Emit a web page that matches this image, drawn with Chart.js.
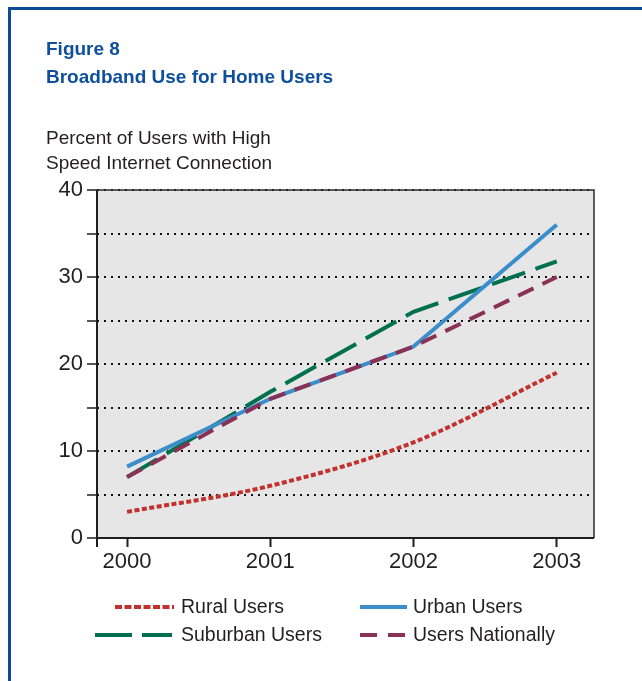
<!DOCTYPE html>
<html>
<head>
<meta charset="utf-8">
<title>Broadband Use for Home Users</title>
<script src="https://cdn.jsdelivr.net/npm/chart.js@4/dist/chart.umd.min.js"></script>
<style>
  html, body { margin: 0; padding: 0; background: #fff; overflow: hidden; }
  #wrap { position: relative; width: 642px; height: 681px; }
  /* blue frame round the figure (top and left edge only) */
  #frame {
    position: absolute; left: 8px; top: 7px; right: -10px; bottom: -10px;
    border-top: 3px solid #0c4c97; border-left: 3px solid #0c4c97;
  }
  #grafico { position: absolute; left: 0; top: 0; }
</style>
</head>
<body>
<div id="wrap">
  <div id="frame"></div>
  <canvas id="grafico" width="642" height="681"></canvas>
</div>
<script>
// anos e series (percentual de usuarios com conexao de alta velocidade)
const anos = [2000, 2001, 2002, 2003]
const rural = [3, 6, 11, 19]
const urbano = [8.2, 16, 22, 36]
const suburbano = [7, 16.8, 26, 31.8]
const nacional = [7, 16, 22, 30]
const rotulosY = [0, 10, 20, 30, 40]

const corTexto = '#231f20'
const fonte = 'Arial, "Liberation Sans", Helvetica, sans-serif'

function pontos(valores) {
    return valores.map((v, i) => ({ x: anos[i], y: v }))
}

/* fundo cinza e moldura da area do grafico */
const molduraPlugin = {
    id: 'moldura',
    beforeDraw(chart) {
        const { ctx, chartArea: a } = chart
        ctx.save()
        ctx.fillStyle = '#e6e6e6'
        ctx.fillRect(a.left, a.top, a.right - a.left, a.bottom - a.top)
        ctx.restore()
    },
    afterDatasetsDraw(chart) {
        const { ctx, chartArea: a } = chart
        ctx.save()
        ctx.strokeStyle = '#2b2b2b'
        ctx.lineWidth = 1.5
        ctx.beginPath()
        ctx.moveTo(a.left, a.top)
        ctx.lineTo(a.right, a.top)
        ctx.lineTo(a.right, a.bottom)
        ctx.stroke()
        ctx.lineWidth = 2
        ctx.strokeStyle = '#1e1e1e'
        ctx.beginPath()
        ctx.moveTo(a.left, a.top)
        ctx.lineTo(a.left, a.bottom + 9)
        ctx.moveTo(a.left - 1, a.bottom)
        ctx.lineTo(a.right, a.bottom)
        ctx.stroke()
        ctx.restore()
    }
}

/* legenda em duas colunas, desenhada a partir dos datasets */
const legendaPlugin = {
    id: 'legenda',
    afterDraw(chart) {
        const ctx = chart.ctx
        const linhas = [[115, 174], [360, 407], [95, 172], [360, 407]]
        const textoX = [181, 413, 181, 413]
        const linhaY = [607, 607, 635, 635]
        ctx.save()
        chart.data.datasets.forEach((ds, i) => {
            ctx.strokeStyle = ds.borderColor
            ctx.lineWidth = ds.borderWidth
            ctx.setLineDash(ds.legendDash || ds.borderDash || [])
            ctx.beginPath()
            ctx.moveTo(linhas[i][0], linhaY[i])
            ctx.lineTo(linhas[i][1], linhaY[i])
            ctx.stroke()
            ctx.setLineDash([])
            ctx.fillStyle = corTexto
            ctx.font = '19.5px ' + fonte
            ctx.textBaseline = 'middle'
            ctx.fillText(ds.label, textoX[i], linhaY[i] + 1)
        })
        ctx.restore()
    }
}

const grafico = document.querySelector('#grafico')
const graficoBanda = new Chart(grafico, {
    type: 'line',
    data: {
        datasets: [{
            label: 'Rural Users',
            data: pontos(rural),
            borderColor: '#c1312d',
            borderWidth: 4,
            borderDash: [5, 2.5],
            legendDash: [7, 2.5],
            cubicInterpolationMode: 'monotone',
            order: 0
        }, {
            label: 'Urban Users',
            data: pontos(urbano),
            borderColor: '#3b8ec9',
            borderWidth: 4,
            order: 2
        }, {
            label: 'Suburban Users',
            data: pontos(suburbano),
            borderColor: '#00704f',
            borderWidth: 4,
            borderDash: [35, 11],
            legendDash: [37, 10],
            order: 3
        }, {
            label: 'Users Nationally',
            data: pontos(nacional),
            borderColor: '#8a3158',
            borderWidth: 4,
            borderDash: [17, 10],
            legendDash: [17, 11],
            order: 1
        }]
    },
    options: {
        responsive: false,
        animation: false,
        layout: { padding: { top: 22, left: 46, right: 48, bottom: 0 } },
        elements: { point: { radius: 0 }, line: { tension: 0, borderCapStyle: 'butt' } },
        plugins: {
            legend: { display: false },
            tooltip: { enabled: false },
            title: {
                display: true,
                align: 'start',
                text: ['Figure 8', 'Broadband Use for Home Users'],
                color: '#0d4f9b',
                font: { family: fonte, size: 19, weight: 'bold', lineHeight: 1.474 },
                padding: { top: 14, bottom: 20 }
            },
            subtitle: {
                display: true,
                align: 'start',
                text: ['Percent of Users with High', 'Speed Internet Connection'],
                color: corTexto,
                font: { family: fonte, size: 19, lineHeight: 1.316 },
                padding: { top: 14, bottom: 14 }
            }
        },
        scales: {
            x: {
                type: 'linear',
                min: 1999.79,
                max: 2003.26,
                afterBuildTicks: s => { s.ticks = anos.map(v => ({ value: v })) },
                afterFit: s => { s.height = 143 },
                border: { display: false },
                grid: { drawOnChartArea: false, drawTicks: true, tickLength: 9, tickColor: '#1e1e1e', tickWidth: 2 },
                ticks: {
                    color: corTexto,
                    font: { family: fonte, size: 22 },
                    padding: 2,
                    maxRotation: 0,
                    callback: v => String(v)
                }
            },
            y: {
                min: 0,
                max: 40,
                afterFit: s => { s.width = 51 },
                border: { display: false, dash: [2, 5] },
                grid: { color: '#111', lineWidth: 2, tickLength: 10, tickColor: '#1e1e1e', tickWidth: 1.5 },
                ticks: {
                    stepSize: 5,
                    color: corTexto,
                    font: { family: fonte, size: 22 },
                    padding: 4,
                    callback: v => rotulosY.includes(v) ? String(v) : ''
                }
            }
        }
    },
    plugins: [molduraPlugin, legendaPlugin]
})
</script>
</body>
</html>
